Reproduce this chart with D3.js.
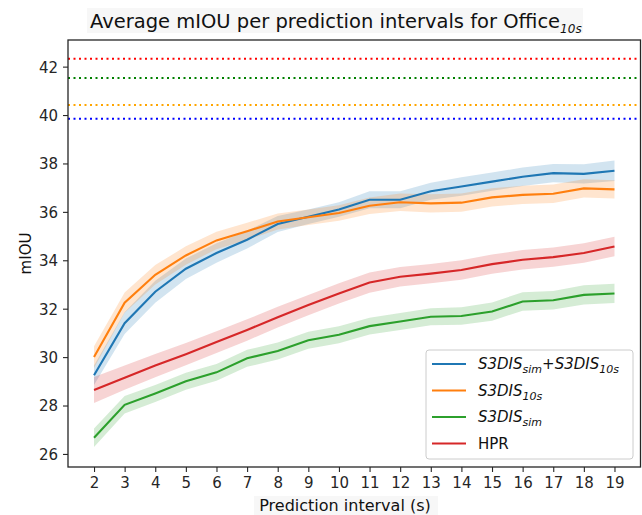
<!DOCTYPE html>
<html>
<head>
<meta charset="utf-8">
<script src="https://cdn.jsdelivr.net/npm/d3@7"></script>
<style>
body { margin: 0; background: #fff; }
svg { font-family: "DejaVu Sans", sans-serif; }
</style>
</head>
<body>
<svg id="chart" width="642" height="515"></svg>
<script>
// prediction intervals (s)
var intervals = [2,3,4,5,6,7,8,9,10,11,12,13,14,15,16,17,18,19];

var simPlus10s = [29.25,31.4,32.7,33.65,34.3,34.85,35.5,35.8,36.1,36.5,36.5,36.85,37.05,37.25,37.45,37.6,37.57,37.7];
var only10s = [30.0,32.25,33.4,34.2,34.82,35.2,35.6,35.78,35.95,36.25,36.4,36.35,36.38,36.6,36.7,36.75,36.97,36.93];
var onlySim = [26.67,28.03,28.5,29.0,29.37,29.95,30.25,30.7,30.92,31.28,31.47,31.67,31.7,31.88,32.3,32.35,32.57,32.63];
var hpr = [28.64,29.15,29.65,30.12,30.62,31.12,31.65,32.15,32.63,33.08,33.32,33.45,33.6,33.84,34.02,34.13,34.3,34.57];

// half width of the shaded confidence band
var simPlus10sErr = [0.4,0.45,0.45,0.42,0.4,0.36,0.33,0.3,0.3,0.35,0.35,0.35,0.38,0.38,0.38,0.38,0.4,0.42];
var only10sErr = [0.45,0.42,0.4,0.38,0.36,0.35,0.33,0.32,0.32,0.34,0.36,0.38,0.38,0.38,0.38,0.38,0.38,0.38];
var onlySimErr = [0.38,0.36,0.35,0.35,0.35,0.35,0.35,0.35,0.35,0.35,0.35,0.35,0.36,0.38,0.38,0.38,0.4,0.4];
var hprErr = [0.54,0.5,0.48,0.46,0.45,0.44,0.43,0.42,0.42,0.42,0.4,0.4,0.4,0.4,0.4,0.4,0.4,0.4];

// reference levels (dotted)
var refLevels = [42.33, 41.53, 40.41, 39.85];
var refColors = ["#ff0000", "#008000", "#ffa500", "#0000ff"];

var yTicks = [26,28,30,32,34,36,38,40,42];

var series = [
	{name: "simPlus10s", values: simPlus10s, err: simPlus10sErr, color: "#1f77b4"},
	{name: "only10s", values: only10s, err: only10sErr, color: "#ff7f0e"},
	{name: "onlySim", values: onlySim, err: onlySimErr, color: "#2ca02c"},
	{name: "hpr", values: hpr, err: hprErr, color: "#d62728"}
];

var box = {left: 68, right: 640.5, top: 40, bottom: 467};

var svg = d3.select("#chart");

var x = d3.scaleLinear()
	.domain([1.15, 19.85])
	.range([box.left, box.right]);

var y = d3.scaleLinear()
	.domain([25.46, 43.1])
	.range([box.bottom, box.top]);

// reference lines
svg.selectAll("line.ref")
	.data(refLevels)
.enter().append("line")
	.attr("class", "ref")
	.attr("x1", box.left)
	.attr("x2", box.right)
	.attr("y1", function(d) { return y(d); })
	.attr("y2", function(d) { return y(d); })
	.style("stroke", function(d, i) { return refColors[i]; })
	.style("stroke-width", 2)
	.style("stroke-dasharray", "2,3.5");

var area = d3.area()
	.x(function(d) { return x(d.x); })
	.y0(function(d) { return y(d.v - d.e); })
	.y1(function(d) { return y(d.v + d.e); });

var line = d3.line()
	.x(function(d) { return x(d.x); })
	.y(function(d) { return y(d.v); });

function pts(s) {
	return intervals.map(function(k, i) { return {x: k, v: s.values[i], e: s.err[i]}; });
}

svg.selectAll("path.band")
	.data(series)
.enter().append("path")
	.attr("class", "band")
	.attr("d", function(s) { return area(pts(s)); })
	.style("fill", function(s) { return s.color; })
	.style("fill-opacity", 0.2)
	.style("stroke", "none");

svg.selectAll("path.line")
	.data(series)
.enter().append("path")
	.attr("class", "line")
	.attr("d", function(s) { return line(pts(s)); })
	.style("fill", "none")
	.style("stroke", function(s) { return s.color; })
	.style("stroke-width", 2.1);

// axes
var xAxis = svg.append("g")
	.attr("transform", "translate(0," + box.bottom + ")")
	.call(d3.axisBottom(x).tickValues(intervals).tickSize(5).tickPadding(5).tickSizeOuter(0));
var yAxis = svg.append("g")
	.attr("transform", "translate(" + box.left + ",0)")
	.call(d3.axisLeft(y).tickValues(yTicks).tickSize(5).tickPadding(5).tickSizeOuter(0));

[xAxis, yAxis].forEach(function(a) {
	a.select(".domain").remove();
	a.selectAll("text").style("font-size", "15px").style("fill", "#262626").style("font-family", "DejaVu Sans");
	a.selectAll("line").style("stroke", "#262626").style("stroke-width", 1.1);
});
yAxis.selectAll("text").attr("dy", "0.36em");

svg.append("rect")
	.attr("x", box.left)
	.attr("y", box.top)
	.attr("width", box.right - box.left)
	.attr("height", box.bottom - box.top)
	.style("fill", "none")
	.style("stroke", "#262626")
	.style("stroke-width", 1.3);

// title
svg.append("rect")
	.attr("x", 87).attr("y", 8).attr("width", 496).attr("height", 25)
	.style("fill", "#f7f7f7");
var title = svg.append("text")
	.attr("x", 90)
	.attr("y", 28)
	.style("font-size", "19.5px")
	.style("fill", "#111");
title.append("tspan").text("Average mIOU per prediction intervals for Office");
title.append("tspan").attr("dy", 5).style("font-size", "12px").style("font-style", "italic").text("10s");

// axis labels
svg.append("rect")
	.attr("x", 254).attr("y", 496).attr("width", 184).attr("height", 19)
	.style("fill", "#f7f7f7");
svg.append("text")
	.attr("x", 345)
	.attr("y", 511)
	.style("text-anchor", "middle")
	.style("font-size", "16px")
	.style("fill", "#111")
	.text("Prediction interval (s)");

svg.append("text")
	.attr("transform", "translate(31," + (box.top + box.bottom) / 2 + ") rotate(-90)")
	.style("text-anchor", "middle")
	.style("font-size", "15px")
	.style("fill", "#111")
	.text("mIOU");

// legend
var legendItems = [
	{color: "#1f77b4", parts: [["S3DIS", "i"], ["sim", "s"], ["+", "n"], ["S3DIS", "i"], ["10s", "s"]]},
	{color: "#ff7f0e", parts: [["S3DIS", "i"], ["10s", "s"]]},
	{color: "#2ca02c", parts: [["S3DIS", "i"], ["sim", "s"]]},
	{color: "#d62728", parts: [["HPR", "n"]]}
];

var legend = svg.append("g").attr("transform", "translate(426,350)");
legend.append("rect")
	.attr("width", 207)
	.attr("height", 109)
	.attr("rx", 3)
	.style("fill", "#fff")
	.style("fill-opacity", 0.8)
	.style("stroke", "#cccccc");

var li = legend.selectAll("g.item")
	.data(legendItems)
.enter().append("g")
	.attr("class", "item")
	.attr("transform", function(d, i) { return "translate(0," + (14 + i * 26.5) + ")"; });

li.append("line")
	.attr("x1", 6).attr("x2", 40)
	.style("stroke", function(d) { return d.color; })
	.style("stroke-width", 2.1);

li.each(function(d) {
	var t = d3.select(this).append("text")
		.attr("x", 52)
		.attr("y", 5)
		.style("font-size", "15px")
		.style("fill", "#111");
	var shifted = false;
	d.parts.forEach(function(p) {
		var sp = t.append("tspan").text(p[0]);
		if (p[1] == "s") {
			sp.style("font-size", "11px").style("font-style", "italic").attr("dy", shifted ? 0 : 4);
			shifted = true;
		} else {
			if (shifted) { sp.attr("dy", -4); shifted = false; }
			if (p[1] == "i") sp.style("font-style", "italic");
		}
	});
});
</script>
</body>
</html>
